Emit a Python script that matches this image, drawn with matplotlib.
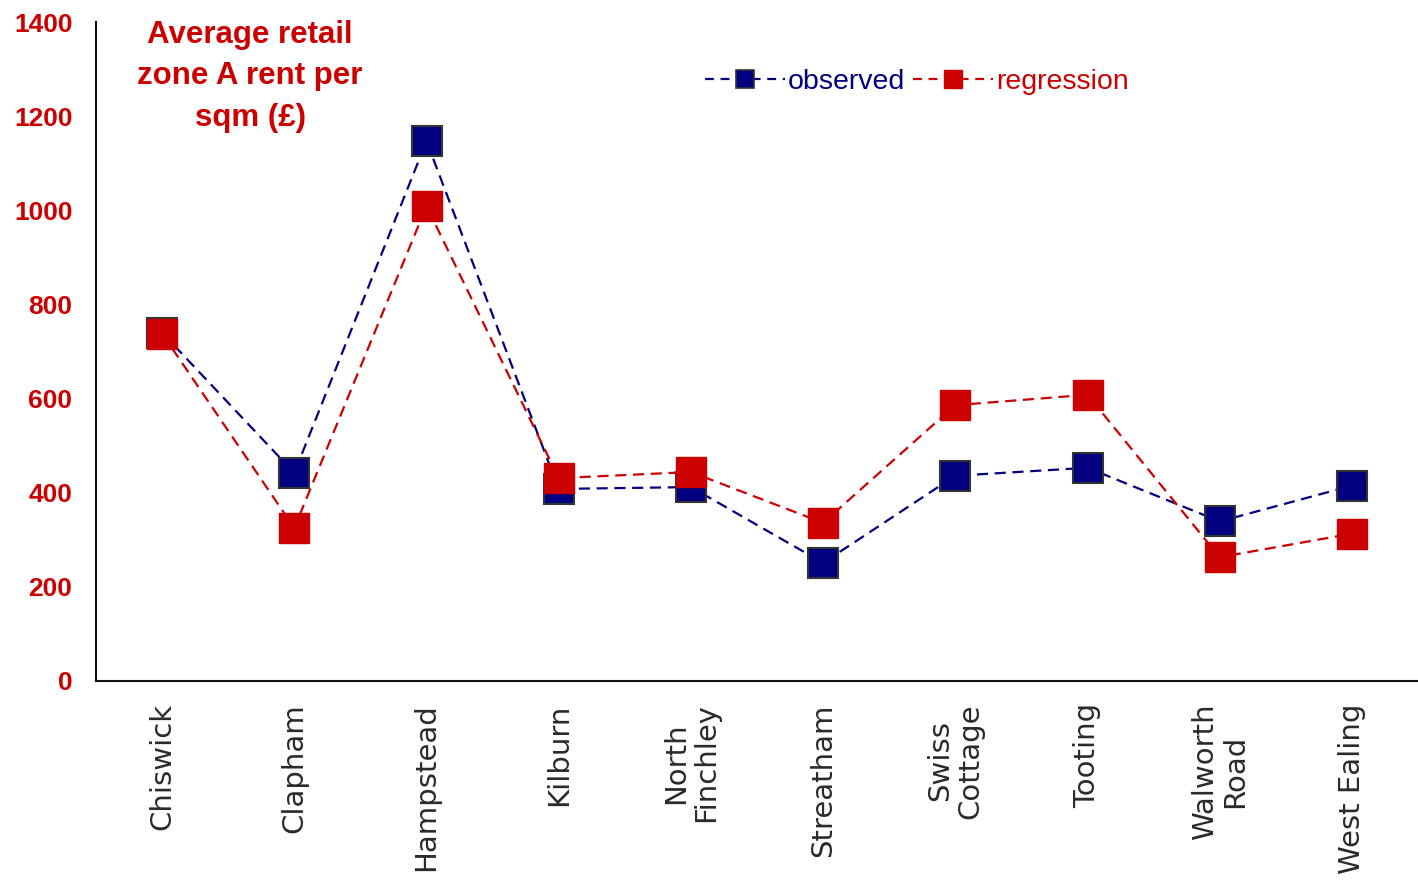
import matplotlib
matplotlib.use("Agg")
import matplotlib.pyplot as plt
from matplotlib.lines import Line2D

# Areas and rents (GBP per sqm)
areas = ["Chiswick", "Clapham", "Hampstead", "Kilburn", "North\nFinchley",
         "Streatham", "Swiss\nCottage", "Tooting", "Walworth\nRoad", "West Ealing"]
observed = [740, 442, 1147, 408, 412, 251, 436, 453, 339, 415]
regression = [738, 325, 1009, 431, 444, 336, 586, 608, 263, 313]
yticks = [0, 200, 400, 600, 800, 1000, 1200, 1400]

NAVY = "#000080"
RED = "#cc0000"

plt.rcParams['font.family'] = ['Liberation Sans', 'DejaVu Sans']

fig = plt.figure(figsize=(14.18, 8.82), dpi=100)
ax = fig.add_axes([96 / 1418, 201 / 882, 1322 / 1418, 659 / 882])

x = list(range(len(areas)))
ax.plot(x, observed, color=NAVY, lw=1.6, ls=(0, (5, 3)), marker="s", ms=21,
        mfc=NAVY, mec="#333333", mew=1.5, zorder=3, label="observed")
ax.plot(x, regression, color=RED, lw=1.6, ls=(0, (5, 3)), marker="s", ms=21,
        mfc=RED, mec=RED, mew=1.0, zorder=4, label="regression")

ax.set_xlim(-0.5, len(areas) - 0.5)
ax.set_ylim(0, 1400)
ax.set_yticks(yticks)
ax.set_yticklabels([str(v) for v in yticks], color=RED, fontsize=19,
                   fontweight="bold")
ax.set_xticks(x)
ax.set_xticklabels(areas, rotation=90, fontsize=21, color="#2a2a2a",
                   va="top", ha="center", multialignment="center",
                   linespacing=1.1, family=["DejaVu Sans"])
ax.tick_params(axis="both", length=0)
ax.tick_params(axis="y", pad=17)
ax.tick_params(axis="x", pad=16)

for side in ("top", "right"):
    ax.spines[side].set_visible(False)
for side in ("left", "bottom"):
    ax.spines[side].set_color("#111111")
    ax.spines[side].set_linewidth(1.5)

ax.text(0.665, 1285, "Average retail\nzone A rent per\nsqm (£)",
        ha="center", va="center", color=RED,
        fontsize=22.5, fontweight="bold", linespacing=1.5)

handles = [
    Line2D([], [], color=NAVY, lw=1.6, ls=(0, (4, 3)), marker="s", ms=13,
           mfc=NAVY, mec="#333333", mew=1.2),
    Line2D([], [], color=RED, lw=1.6, ls=(0, (4, 3)), marker="s", ms=13,
           mfc=RED, mec=RED),
]
leg = ax.legend(handles, ["observed", "regression"], loc="center",
                bbox_to_anchor=(0.621, 0.909), ncol=2, frameon=False,
                fontsize=20.5, handlelength=2.8, handletextpad=0.1,
                columnspacing=0.3)
for txt, col in zip(leg.get_texts(), (NAVY, RED)):
    txt.set_color(col)

fig.savefig("out.png", dpi=100)
